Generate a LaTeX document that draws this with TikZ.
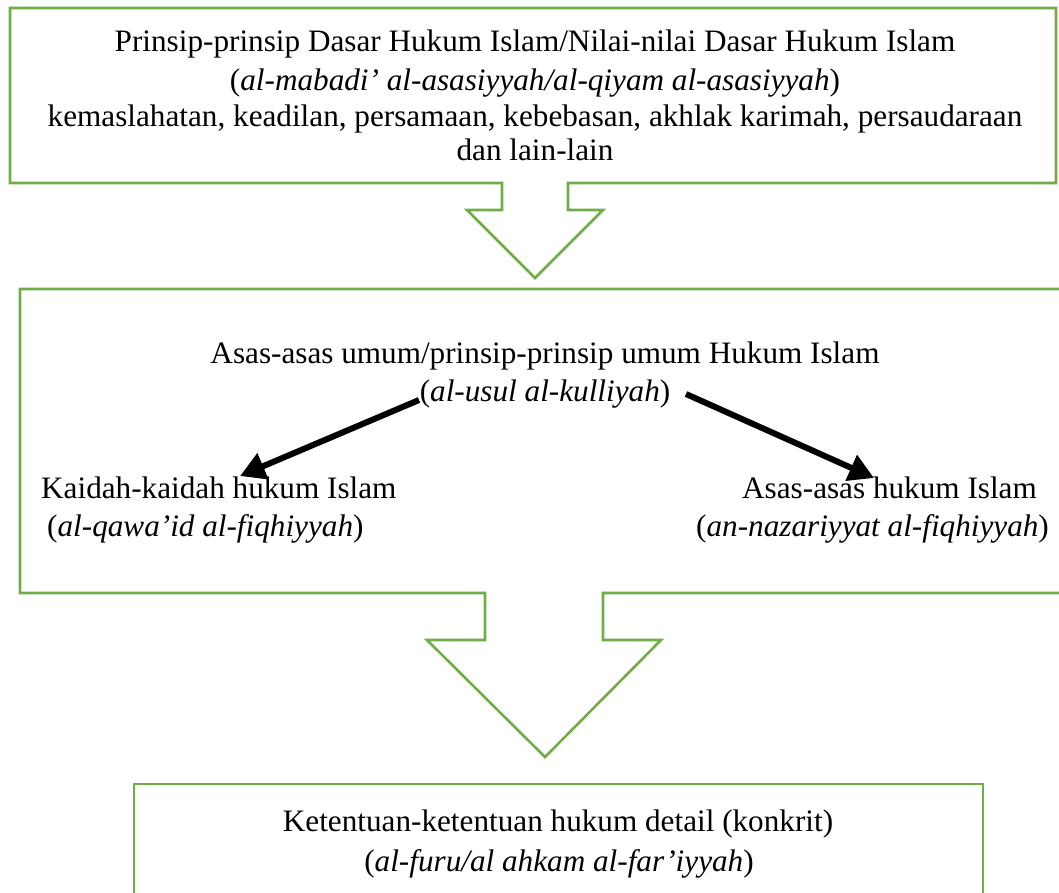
\documentclass[tikz,border=0pt]{standalone}
\usepackage{fontspec}
\setmainfont{Liberation Serif}
\usetikzlibrary{arrows.meta}
\definecolor{boxgreen}{RGB}{112,173,71}
\tikzset{
  greenline/.style={draw=boxgreen, line width=2.6pt, line join=miter},
  txt/.style={inner sep=0pt, font=\fontsize{31.2}{36}\selectfont, anchor=base},
  bigarrow/.style={line width=6pt, -{Triangle[length=25pt,width=27pt]}},
}
\begin{document}
\begin{tikzpicture}[x=1pt,y=-1pt]
\useasboundingbox (0,0) rectangle (1059,892);
\clip (0,0) rectangle (1059,892);
% top box with block arrow
\draw[greenline] (10,8) -- (1056,8) -- (1056,183) -- (568,183) -- (568,210) -- (603,210)
  -- (535,278) -- (467,210) -- (502,210) -- (502,183) -- (10,183) -- cycle;
% middle box with block arrow
\draw[greenline] (20,289) -- (1075,289) -- (1075,593) -- (603,593) -- (603,640) -- (661,640)
  -- (545,757) -- (427,640) -- (485,640) -- (485,593) -- (20,593) -- cycle;
% bottom box
\draw[greenline] (134,784) -- (983,784) -- (983,910) -- (134,910) -- cycle;
% top texts
\node[txt] (t1) at (535,51) {Prinsip-prinsip Dasar Hukum Islam/Nilai-nilai Dasar Hukum Islam};
\node[txt] (t2) at (535,90) {(\textit{al-mabadi’ al-asasiyyah/al-qiyam al-asasiyyah})};
\node[txt] (t3) at (535,126) {kemaslahatan, keadilan, persamaan, kebebasan, akhlak karimah, persaudaraan};
\node[txt] (t4) at (535,160) {dan lain-lain};
% middle texts
\node[txt] (m1) at (545,363) {Asas-asas umum/prinsip-prinsip umum Hukum Islam};
\node[txt] (m2) at (545,401) {(\textit{al-usul al-kulliyah})};
\node[txt, anchor=base west] (l1) at (41,498) {Kaidah-kaidah hukum Islam};
\node[txt, anchor=base west] (l2) at (47,536) {(\textit{al-qawa’id al-fiqhiyyah})};
\node[txt, anchor=base west] (r1) at (742,498) {Asas-asas hukum Islam};
\node[txt, anchor=base west] (r2) at (696,536) {(\textit{an-nazariyyat al-fiqhiyyah})};
% bottom texts
\node[txt] (b1) at (558,831) {Ketentuan-ketentuan hukum detail (konkrit)};
\node[txt] (b2) at (559,871) {(\textit{al-furu/al ahkam al-far’iyyah})};
% black arrows
\coordinate (ls) at (419,400);
\coordinate (le) at (240,476);
\coordinate (rs) at (686,394);
\coordinate (re) at (874,478);
\draw[bigarrow] (ls) -- (le);
\draw[bigarrow] (rs) -- (re);
\end{tikzpicture}
\end{document}
